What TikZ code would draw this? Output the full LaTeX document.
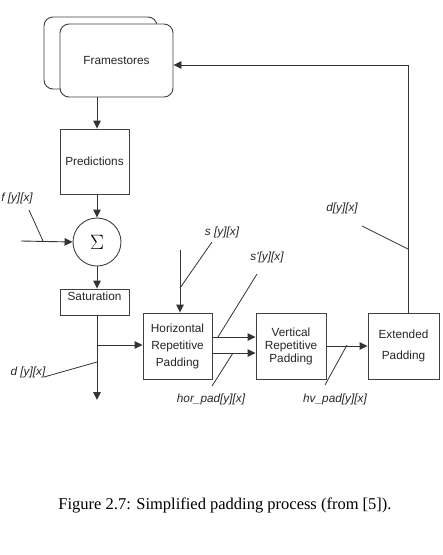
\documentclass[tikz,border=0pt]{standalone}
\usepackage{fontspec}
\setmainfont{Liberation Serif}
\newfontfamily\arialfont{Liberation Sans}
\usetikzlibrary{arrows.meta}

\begin{document}
\begin{tikzpicture}[
  x=1pt, y=-1pt,
  box/.style={rectangle, draw=black!75, fill=white, line width=0.9pt,
    inner sep=1pt, align=center, text=black!85,
    font=\arialfont\fontsize{11.8}{17}\selectfont},
  store/.style={box, rounded corners=9pt, minimum width=113pt, minimum height=73pt},
  arr/.style={-{Triangle[length=8pt,width=7.5pt]}, draw=black!80, line width=0.9pt},
  lead/.style={draw=black!80, line width=0.8pt},
  lab/.style={inner sep=0pt, text=black!85,
    font=\arialfont\itshape\fontsize{11.8}{13}\selectfont}
]
\useasboundingbox (0,0) rectangle (443,555);

% frame stores
\node[store, minimum height=72pt] (fsback) at (100.5,53) {};
\node[store] (fs) at (116.5,60.5) {Framestores};

% left column
\node[box, minimum width=69pt, minimum height=65pt] (pred) at (94.5,161.5) {Predictions};
\node[circle, draw=black!75, line width=0.9pt, minimum size=48pt, inner sep=0pt,
  font=\fontsize{20}{20}\selectfont] (sum) at (97,242) {$\Sigma$};
\node[box, minimum width=69pt, minimum height=26pt, text depth=12pt] (sat) at (94.5,302) {Saturation};

% padding stages
\node[box, minimum width=69pt, minimum height=66pt] (hrp) at (177.5,346) {Horizontal\\Repetitive\\Padding};
\node[box, minimum width=70pt, minimum height=66pt] (vrp) at (291,346) {Vertical\\[-4pt]Repetitive\\[-4pt]Padding};
\node[box, minimum width=71pt, minimum height=66pt, font=\arialfont\fontsize{11.8}{21}\selectfont] (ext) at (403.5,346) {Extended\\Padding};

% free ends
\coordinate (fin) at (21,241);
\coordinate (br) at (97,345);
\coordinate (dout) at (97,400);
\coordinate (sin) at (180,250);
\coordinate (corner) at (408,65);

% connectors
\draw[arr] (fs.south -| sum) -- (pred.north -| sum);
\draw[arr] (pred.south -| sum) -- (sum.north);
\draw[arr] (fin) -- (sum.west);
\draw[arr] (sum.south) -- (sat.north -| sum);
\draw[arr] (sat.south -| sum) -- (dout);
\draw[arr] (br) -- (hrp.west |- br);
\draw[arr] (sin) -- (hrp.north -| sin);
\draw[arr] ([yshift=9pt]hrp.east) -- ([yshift=9pt]vrp.west);
\draw[arr] ([yshift=-7pt]hrp.east) -- ([yshift=-7pt]vrp.west);
\draw[arr] (vrp.east) -- (ext.west);
\draw[arr] (ext.north -| corner) -- (corner) -- (fs.east |- corner);

% labels
\node[lab] (flab) at (17,198) {f [y][x]};
\draw[lead] (29,210) -- (43,241);
\node[lab] (dlab) at (28,372) {d [y][x]};
\draw[lead] (44,377) -- (97,362);
\node[lab] (slab) at (222,232) {s [y][x]};
\draw[lead] (180,288) -- (212,242);
\node[lab] (splab) at (267,257) {s'[y][x]};
\draw[lead] (218,337) -- (257,274);
\node[lab] (hplab) at (211,399) {hor\_pad[y][x]};
\draw[lead] (233,353) -- (212,386);
\node[lab] (hvlab) at (335,399) {hv\_pad[y][x]};
\draw[lead] (347,345) -- (325,385);
\node[lab] (drlab) at (342,208) {d[y][x]};
\draw[lead] (408,249) -- (362,226);

% caption
\node[font=\fontsize{16.5}{18}\selectfont] (cap) at (225,505) {Figure 2.7: Simplified padding process (from [5]).};
\end{tikzpicture}
\end{document}
